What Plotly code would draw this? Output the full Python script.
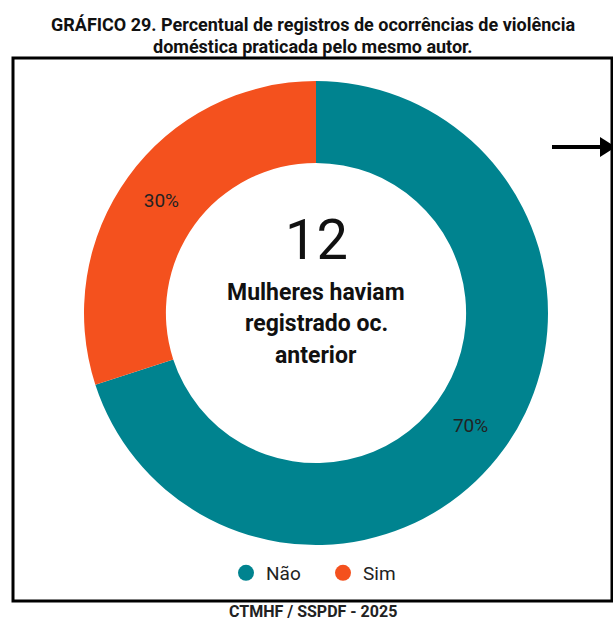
import plotly.graph_objects as go

W, H = 613, 623

# Data
labels = ["Não", "Sim"]
values = [70, 30]
colors = ["#00838F", "#F4511E"]
center_number = "12"
center_lines = ["Mulheres haviam", "registrado oc.", "anterior"]
title_lines = ["GRÁFICO 29. Percentual de registros de ocorrências de violência",
               "doméstica praticada pelo mesmo autor."]
source_text = "CTMHF / SSPDF - 2025"


def px(x):
    return x / W


def py(y):
    return 1 - y / H


# donut centre and outer radius, in pixels
cx, cy, r = 316, 313, 232

fig = go.Figure()
fig.add_trace(go.Pie(
    labels=labels, values=values, hole=0.647, sort=False, direction="clockwise",
    rotation=0, marker=dict(colors=colors, line=dict(width=0)),
    textinfo="percent", textposition="inside", insidetextorientation="horizontal",
    textfont=dict(family="Roboto", size=19, color="#222222"),
    domain=dict(x=[px(cx - r), px(cx + r)], y=[py(cy + r), py(cy - r)]),
    showlegend=False, hoverinfo="label+percent"))

# legend entries with round markers
for lab, col in zip(labels, colors):
    fig.add_trace(go.Scatter(x=[None], y=[None], mode="markers", name=lab,
                             marker=dict(color=col, size=20, symbol="circle")))

annotations = []
for i, t in enumerate(title_lines):
    annotations.append(dict(text="<b>%s</b>" % t, x=px(313), y=py(24 + 22 * i), xref="paper", yref="paper",
                            showarrow=False, xanchor="center", yanchor="middle",
                            font=dict(family="Roboto", size=18, color="#111111")))
annotations.append(dict(text=center_number, x=px(cx), y=py(240), xref="paper", yref="paper",
                        showarrow=False, xanchor="center", yanchor="middle",
                        font=dict(family="Roboto", size=56, color="#111111")))
for i, t in enumerate(center_lines):
    annotations.append(dict(text="<b>%s</b>" % t, x=px(cx), y=py(292 + 31.5 * i), xref="paper", yref="paper",
                            showarrow=False, xanchor="center", yanchor="middle",
                            font=dict(family="Roboto", size=23, color="#111111")))
annotations.append(dict(text="<b>%s</b>" % source_text, x=px(313), y=py(611), xref="paper", yref="paper",
                        showarrow=False, xanchor="center", yanchor="middle",
                        font=dict(family="Roboto", size=16, color="#222222")))

shapes = [
    # frame
    dict(type="rect", xref="paper", yref="paper", x0=px(13), x1=px(612), y0=py(601), y1=py(58),
         line=dict(color="black", width=3)),
    # arrow
    dict(type="line", xref="paper", yref="paper", x0=px(552), x1=px(602), y0=py(147), y1=py(147),
         line=dict(color="black", width=4)),
    dict(type="path", xref="paper", yref="paper",
         path="M %f %f L %f %f L %f %f Z" % (px(600), py(137), px(616), py(147), px(600), py(157)),
         fillcolor="black", line=dict(width=0)),
]

fig.update_layout(
    width=W, height=H, margin=dict(l=0, r=0, t=0, b=0),
    paper_bgcolor="white", plot_bgcolor="white",
    xaxis=dict(visible=False), yaxis=dict(visible=False),
    font=dict(family="Roboto"),
    legend=dict(orientation="h", x=px(323), xanchor="center", y=py(573), yanchor="middle",
                font=dict(family="Roboto", size=19, color="#222222"),
                entrywidth=52, entrywidthmode="pixels"),
    annotations=annotations, shapes=shapes)

fig.write_html("out.html", config=dict(displayModeBar=False),
               post_script="document.body.style.margin='0';")
